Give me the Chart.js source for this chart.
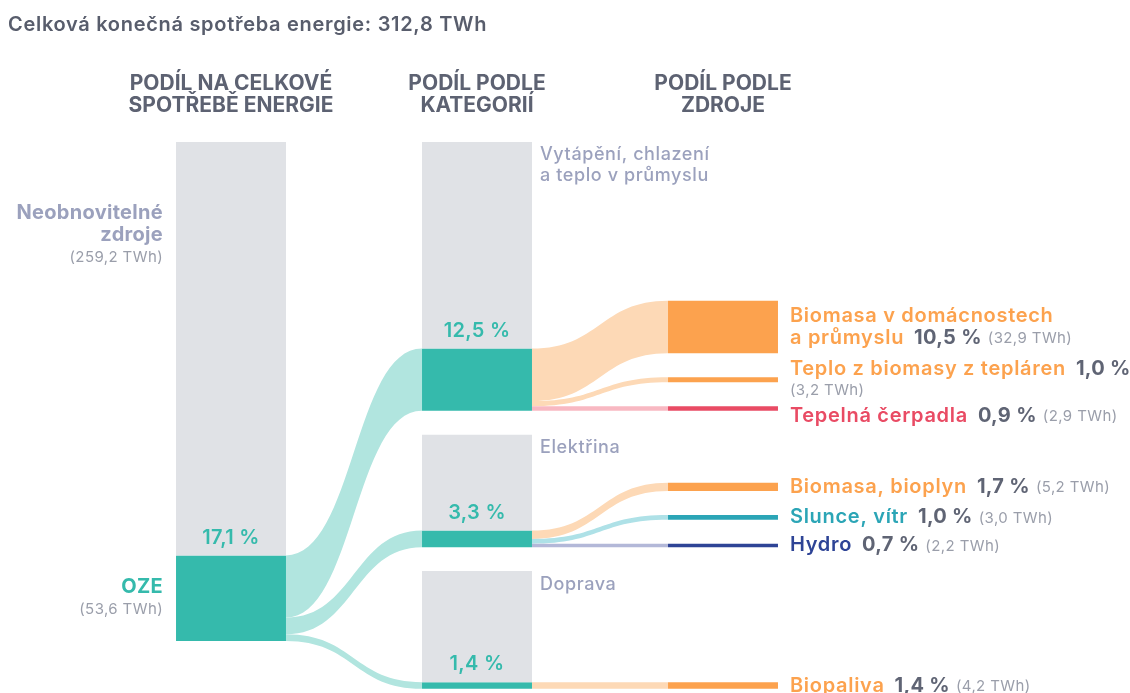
<!DOCTYPE html>
<html lang="cs">
<head>
<meta charset="utf-8">
<title>Celková konečná spotřeba energie</title>
<script src="https://cdn.jsdelivr.net/npm/chart.js@4.4.1/dist/chart.umd.min.js"></script>
<style>
  html, body { margin: 0; padding: 0; background: #fff; }
  #wrap { width: 1130px; height: 693px; }
</style>
</head>
<body>
<div id="wrap"><canvas id="sankey"></canvas></div>
<script>
// ---- data (TWh) ----
const totalTWh = 312.8;
const shareLabels = ['Neobnovitelné\nzdroje', 'OZE'];
const shareValues = [259.2, 53.6];
const sharePct = [82.9, 17.1];

const categories = ['Vytápění, chlazení\na teplo v průmyslu', 'Elektřina', 'Doprava'];
const categoryTotals = [168.5, 70.5, 73.8];
const categoryOze = [39.0, 10.4, 4.2];
const categoryPct = [12.5, 3.3, 1.4];

const sources = ['Biomasa v domácnostech\na průmyslu', 'Teplo z biomasy z tepláren', 'Tepelná čerpadla',
                 'Biomasa, bioplyn', 'Slunce, vítr', 'Hydro', 'Biopaliva'];
const sourceCategory = [0, 0, 0, 1, 1, 1, 2];
const sourceValues = [32.9, 3.2, 2.9, 5.2, 3.0, 2.2, 4.2];
const sourcePct = [10.5, 1.0, 0.9, 1.7, 1.0, 0.7, 1.4];

const columnTitles = [['PODÍL NA CELKOVÉ', 'SPOTŘEBĚ ENERGIE'], ['PODÍL PODLE', 'KATEGORIÍ'], ['PODÍL PODLE', 'ZDROJE']];

// ---- styles ----
const GRAY = '#e0e2e6';
const TEAL = '#35baac';
const TEAL_FLOW = '#b1e5df';
const sourceColors = ['#fca24e', '#fca24e', '#e94b64', '#fca24e', '#2ba5b6', '#2e4496', '#fca24e'];
const sourceFlowColors = ['#fdd9b6', '#fdd9b6', '#f8b8c2', '#fdd9b6', '#aee1e7', '#b3b8d8', '#fdd9b6'];
const GAP = 15;            // space between stacked nodes, in TWh units
const FONT = 'Inter, "Noto Sans", sans-serif';
const fmt = v => v.toFixed(1).replace('.', ',');

// ---- layout of nodes (floating bars) ----
const nodes = [];
let cur = 0;
shareValues.forEach((v, i) => {
  nodes.push({ col: 0, start: cur, end: cur + v, color: i === 0 ? GRAY : TEAL });
  cur += v;
});
const ozeNode = 1;

const catTeal = [];
cur = 0;
categories.forEach((c, i) => {
  const start = cur, end = cur + categoryTotals[i];
  nodes.push({ col: 1, start: start, end: end - categoryOze[i], color: GRAY });
  catTeal[i] = nodes.length;
  nodes.push({ col: 1, start: end - categoryOze[i], end: end, color: TEAL });
  cur = end + GAP;
});

// sources stack upward from the bottom of their category
const srcNode = [];
categories.forEach((c, ci) => {
  let bottom = nodes[catTeal[ci]].end;
  for (let s = sources.length - 1; s >= 0; s--) {
    if (sourceCategory[s] !== ci) continue;
    srcNode[s] = nodes.length;
    nodes.push({ col: 2, start: bottom - sourceValues[s], end: bottom, color: sourceColors[s] });
    bottom -= sourceValues[s] + GAP;
  }
});

const links = [];
categories.forEach((c, i) => links.push({ from: ozeNode, to: catTeal[i], value: categoryOze[i], color: TEAL_FLOW }));
sources.forEach((s, i) => links.push({ from: catTeal[sourceCategory[i]], to: srcNode[i], value: sourceValues[i], color: sourceFlowColors[i] }));

const datasets = nodes.map(n => {
  const data = [null, null, null];
  data[n.col] = [n.start, n.end];
  return { data: data, backgroundColor: n.color };
});

// ---- flows between the bars ----
const flowPlugin = {
  id: 'flows',
  beforeDatasetsDraw(chart) {
    const ctx = chart.ctx, y = chart.scales.y;
    const outOff = {}, inOff = {};
    links.forEach(l => {
      const a = chart.getDatasetMeta(l.from).data[nodes[l.from].col];
      const b = chart.getDatasetMeta(l.to).data[nodes[l.to].col];
      const s0 = outOff[l.from] ?? nodes[l.from].start;
      const t0 = inOff[l.to] ?? nodes[l.to].start;
      outOff[l.from] = s0 + l.value;
      inOff[l.to] = t0 + l.value;
      const x0 = a.x + a.width / 2, x1 = b.x - b.width / 2, xm = (x0 + x1) / 2;
      const a0 = y.getPixelForValue(s0), a1 = y.getPixelForValue(s0 + l.value);
      const b0 = y.getPixelForValue(t0), b1 = y.getPixelForValue(t0 + l.value);
      ctx.save();
      ctx.beginPath();
      ctx.moveTo(x0, a0);
      ctx.bezierCurveTo(xm, a0, xm, b0, x1, b0);
      ctx.lineTo(x1, b1);
      ctx.bezierCurveTo(xm, b1, xm, a1, x0, a1);
      ctx.closePath();
      ctx.fillStyle = l.color;
      ctx.fill();
      ctx.restore();
    });
  }
};

// ---- texts ----
function setFont(ctx, weight, size, spacing) {
  ctx.font = weight + ' ' + size + 'px ' + FONT;
  ctx.letterSpacing = spacing + 'px';
}

const labelPlugin = {
  id: 'labels',
  afterDraw(chart) {
    const ctx = chart.ctx, y = chart.scales.y;
    const bar = i => chart.getDatasetMeta(i).data[nodes[i].col];
    ctx.save();
    ctx.textBaseline = 'middle';

    setFont(ctx, 600, 20, 0.7);
    ctx.fillStyle = '#585d6c';
    ctx.textAlign = 'left';
    ctx.fillText('Celková konečná spotřeba energie: ' + fmt(totalTWh) + ' TWh', 8, 25);

    // left column labels
    const anchor = [0.225, 0.5];
    shareLabels.forEach((lab, i) => {
      const n = nodes[i], b = bar(i);
      const lines = lab.split('\n');
      const top = y.getPixelForValue(n.start), bot = y.getPixelForValue(n.end);
      const cy = top + (bot - top) * anchor[i];
      const y0 = cy - lines.length * 11;
      const xr = b.x - b.width / 2 - 13;
      ctx.textAlign = 'right';
      setFont(ctx, 700, 20, 0.3);
      ctx.fillStyle = i === 0 ? '#9ba1bd' : TEAL;
      lines.forEach((t, k) => ctx.fillText(t, xr, y0 + k * 22));
      setFont(ctx, 400, 15, 0.4);
      ctx.fillStyle = '#9a9eaa';
      ctx.fillText('(' + fmt(shareValues[i]) + ' TWh)', xr, y0 + lines.length * 22);
    });

    // percentages above the teal parts
    ctx.textAlign = 'center';
    setFont(ctx, 600, 20, 0.3);
    ctx.fillStyle = TEAL;
    const pctNodes = [[ozeNode, sharePct[1]]].concat(catTeal.map((t, i) => [t, categoryPct[i]]));
    pctNodes.forEach(([i, p]) => {
      const b = bar(i);
      ctx.fillText(fmt(p) + ' %', b.x, y.getPixelForValue(nodes[i].start) - 18);
    });

    // category names
    ctx.textAlign = 'left';
    setFont(ctx, 500, 18, 0.6);
    ctx.fillStyle = '#9ba1bd';
    categories.forEach((c, i) => {
      const gi = catTeal[i] - 1, b = bar(gi);
      const top = y.getPixelForValue(nodes[gi].start);
      c.split('\n').forEach((t, k) => ctx.fillText(t, b.x + b.width / 2 + 8, top + 13 + k * 21));
    });

    // source names with share and TWh
    const maxX = chart.width - 2;
    let prevBottom = -Infinity;
    sources.forEach((s, i) => {
      const ni = srcNode[i], b = bar(ni), n = nodes[ni];
      const x0 = b.x + b.width / 2 + 12;
      const cy = (y.getPixelForValue(n.start) + y.getPixelForValue(n.end)) / 2;
      const lines = s.split('\n');
      const pct = fmt(sourcePct[i]) + ' %';
      const twh = '(' + fmt(sourceValues[i]) + ' TWh)';
      setFont(ctx, 600, 20, 0.7);
      let lastW = ctx.measureText(lines[lines.length - 1]).width + 10;
      setFont(ctx, 700, 20, 0.3);
      lastW += ctx.measureText(pct).width + 6;
      setFont(ctx, 400, 15, 0.4);
      const wrap = x0 + lastW + ctx.measureText(twh).width > maxX;
      const count = lines.length + (wrap ? 1 : 0);
      let ly = Math.max(cy - (count - 1) * 11, prevBottom + 26);
      lines.forEach((t, k) => {
        setFont(ctx, 600, 20, 0.7);
        ctx.fillStyle = sourceColors[i];
        ctx.fillText(t, x0, ly);
        if (k === lines.length - 1) {
          let x = x0 + ctx.measureText(t).width + 10;
          setFont(ctx, 700, 20, 0.3);
          ctx.fillStyle = '#5f6474';
          ctx.fillText(pct, x, ly);
          x += ctx.measureText(pct).width + 6;
          setFont(ctx, 400, 15, 0.4);
          ctx.fillStyle = '#9a9eaa';
          if (wrap) { ly += 21; x = x0; }
          ctx.fillText(twh, x, ly + 1);
        }
        prevBottom = ly;
        ly += 22;
      });
    });
    ctx.restore();
  }
};

new Chart(document.getElementById('sankey'), {
  type: 'bar',
  data: { labels: columnTitles, datasets: datasets },
  options: {
    responsive: true,
    maintainAspectRatio: false,
    animation: false,
    events: [],
    layout: { padding: { top: 30, left: 108, right: 284, bottom: 0 } },
    datasets: { bar: { grouped: false, categoryPercentage: 1, barPercentage: 0.447, borderWidth: 0 } },
    plugins: { legend: { display: false }, tooltip: { enabled: false } },
    scales: {
      x: {
        position: 'top',
        grid: { display: false, drawTicks: false },
        border: { display: false },
        ticks: {
          color: '#5d6272',
          font: { family: FONT, size: 21, weight: '700', lineHeight: 1.05 },
          padding: 25, maxRotation: 0, autoSkip: false
        },
        afterFit: s => { s.height = 112; }
      },
      y: { display: false, reverse: true, min: 0, max: 345.4 }
    }
  },
  plugins: [flowPlugin, labelPlugin]
});
</script>
</body>
</html>
